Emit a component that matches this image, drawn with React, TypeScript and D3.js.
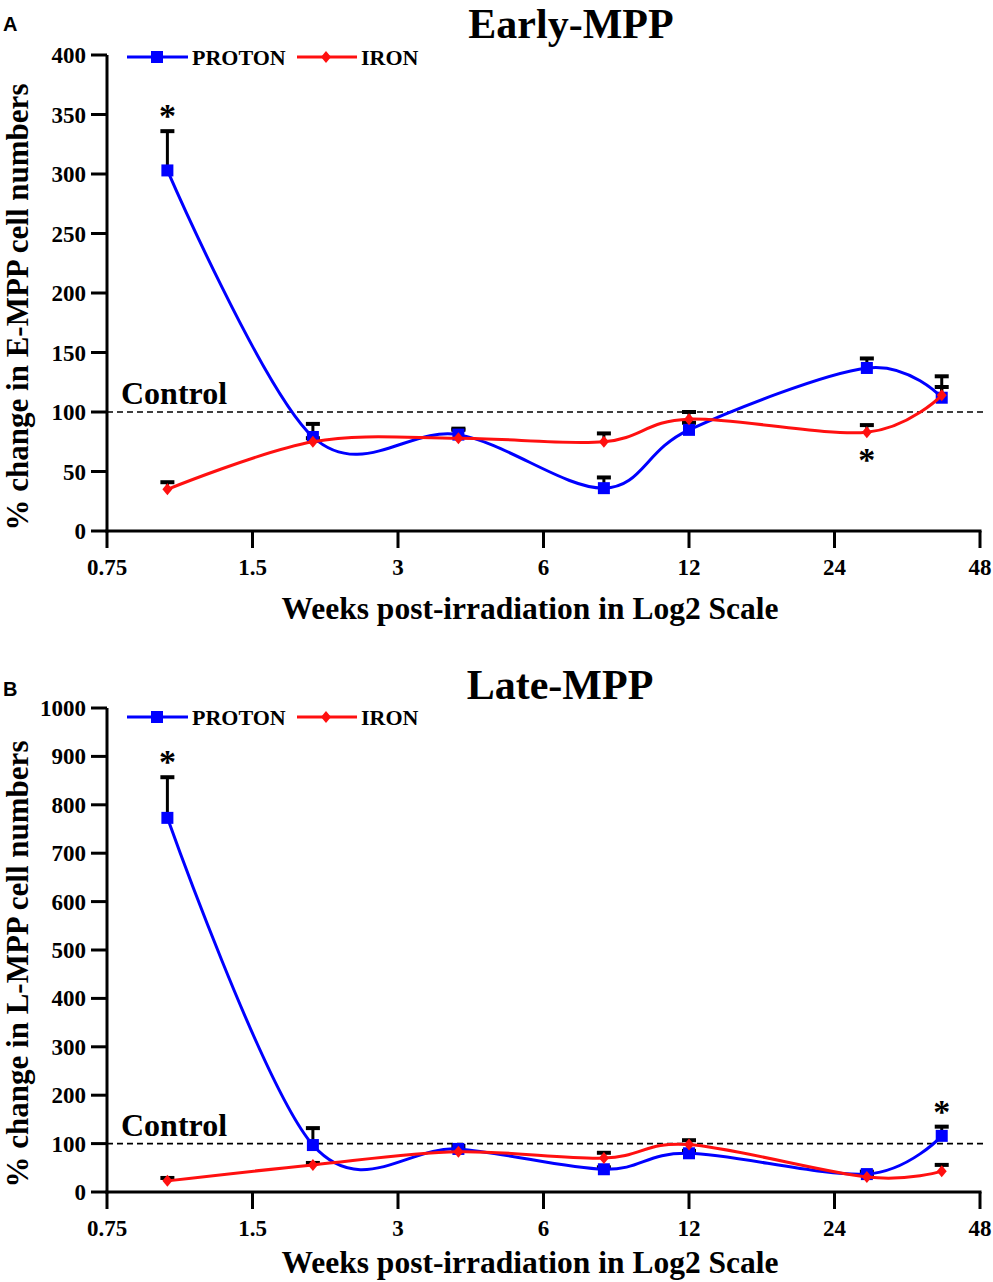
import * as d3 from "d3";

// weeks post-irradiation (log2 x axis)
const weeks = [1, 2, 4, 8, 12, 28, 40];
const xTicks = [0.75, 1.5, 3, 6, 12, 24, 48];

// Early-MPP (% of control)
const earlyProton = [303, 79, 81, 36, 85, 137, 112];
const earlyProtonSem = [33, 11, 5, 9, 6, 8, 9];
const earlyIron = [35, 75, 78, 75, 94, 83, 114];
const earlyIronSem = [6, 3, 7, 7, 6, 6, 16];

// Late-MPP (% of control)
const lateProton = [773, 97, 89, 47, 80, 37, 116];
const lateProtonSem = [84, 35, 6, 4, 5, 5, 19];
const lateIron = [23, 56, 83, 70, 98, 31, 43];
const lateIronSem = [6, 4, 4, 11, 9, 4, 13];

// significance stars: series, week index, above/below
const earlyStars = [
  { series: "proton", i: 0, pos: "above" },
  { series: "iron", i: 5, pos: "below" },
];
const lateStars = [
  { series: "proton", i: 0, pos: "above" },
  { series: "proton", i: 6, pos: "above" },
];

const SERIF = "'Liberation Serif', 'Times New Roman', serif";
const BLUE = "#0000ff";
const RED = "#ff1010";

interface PanelProps {
  letter: string;
  title: string;
  yLabel: string;
  yMax: number;
  yStep: number;
  top: number; // pixel y of max value
  bottom: number; // pixel y of zero
  proton: number[];
  protonSem: number[];
  iron: number[];
  ironSem: number[];
  stars: { series: string; i: number; pos: string }[];
  titleX: number;
  titleY: number;
  letterY: number;
  legendY: number;
  xTitleY: number;
}

function Panel(p: PanelProps) {
  const x = d3.scaleLog().base(2).domain([0.75, 48]).range([107, 980]);
  const y = d3.scaleLinear().domain([0, p.yMax]).range([p.bottom, p.top]);
  const yTicks = d3.range(0, p.yMax + 1, p.yStep);

  const line = d3
    .line<number>()
    .x((_, i) => x(weeks[i]))
    .y((d) => y(d))
    .curve(d3.curveCardinal.tension(0));

  const errBars = (vals: number[], sem: number[], key: string) =>
    vals.map((v, i) => {
      const cx = x(weeks[i]);
      const y1 = y(v + sem[i]);
      return (
        <g key={key + i}>
          <line x1={cx} x2={cx} y1={y(v)} y2={y1} stroke="#000" strokeWidth={3} />
          <line x1={cx - 7} x2={cx + 7} y1={y1} y2={y1} stroke="#000" strokeWidth={4} />
        </g>
      );
    });

  const square = (cx: number, cy: number, k: string) => (
    <rect key={k} x={cx - 6} y={cy - 6} width={12} height={12} fill={BLUE} />
  );
  const diamond = (cx: number, cy: number, k: string) => (
    <path key={k} d={`M${cx},${cy - 6}L${cx + 5},${cy}L${cx},${cy + 6}L${cx - 5},${cy}Z`} fill={RED} />
  );

  const x0 = x(0.75);
  const yMid = (p.top + p.bottom) / 2 + 14;

  return (
    <g>
      <text x={3} y={p.letterY} fontFamily="'Liberation Sans', Arial, sans-serif" fontWeight="bold" fontSize={20}>
        {p.letter}
      </text>
      <text x={p.titleX} y={p.titleY} textAnchor="middle" fontFamily={SERIF} fontWeight="bold" fontSize={42}>
        {p.title}
      </text>

      {/* y axis */}
      <line x1={x0} x2={x0} y1={p.bottom + 1.5} y2={p.top} stroke="#000" strokeWidth={3} />
      {yTicks.map((t) => (
        <g key={"yt" + t}>
          <line x1={91} x2={x0} y1={y(t)} y2={y(t)} stroke="#000" strokeWidth={3} />
          <text x={86} y={y(t) + 8} textAnchor="end" fontFamily={SERIF} fontWeight="bold" fontSize={23}>
            {t}
          </text>
        </g>
      ))}
      <text
        transform={`translate(28,${yMid}) rotate(-90)`}
        textAnchor="middle"
        fontFamily={SERIF}
        fontWeight="bold"
        fontSize={31}
      >
        {p.yLabel}
      </text>

      {/* x axis */}
      <line x1={x0 - 1.5} x2={x(48) + 1.5} y1={p.bottom} y2={p.bottom} stroke="#000" strokeWidth={3} />
      {xTicks.map((t) => (
        <g key={"xt" + t}>
          <line x1={x(t)} x2={x(t)} y1={p.bottom} y2={p.bottom + 17} stroke="#000" strokeWidth={3} />
          <text x={x(t)} y={p.bottom + 44} textAnchor="middle" fontFamily={SERIF} fontWeight="bold" fontSize={23}>
            {t}
          </text>
        </g>
      ))}
      <text x={530} y={p.xTitleY} textAnchor="middle" fontFamily={SERIF} fontWeight="bold" fontSize={31.5}>
        Weeks post-irradiation in Log2 Scale
      </text>

      {/* control */}
      <line x1={x0} x2={985} y1={y(100)} y2={y(100)} stroke="#000" strokeWidth={1.6} strokeDasharray="6,4" />
      <text x={121} y={y(100) - 8} fontFamily={SERIF} fontWeight="bold" fontSize={32}>
        Control
      </text>

      {/* legend */}
      <line x1={127} x2={188} y1={p.legendY} y2={p.legendY} stroke={BLUE} strokeWidth={3} />
      {square(157, p.legendY, "lgp")}
      <text x={192} y={p.legendY + 8} fontFamily={SERIF} fontWeight="bold" fontSize={22}>
        PROTON
      </text>
      <line x1={297} x2={357} y1={p.legendY} y2={p.legendY} stroke={RED} strokeWidth={3} />
      {diamond(326, p.legendY, "lgi")}
      <text x={361} y={p.legendY + 8} fontFamily={SERIF} fontWeight="bold" fontSize={22}>
        IRON
      </text>

      {errBars(p.proton, p.protonSem, "ep")}
      {errBars(p.iron, p.ironSem, "ei")}

      <path d={line(p.proton) || ""} fill="none" stroke={BLUE} strokeWidth={3} />
      {p.proton.map((v, i) => square(x(weeks[i]), y(v), "mp" + i))}
      <path d={line(p.iron) || ""} fill="none" stroke={RED} strokeWidth={3} />
      {p.iron.map((v, i) => diamond(x(weeks[i]), y(v), "mi" + i))}

      {p.stars.map((s, k) => {
        const vals = s.series === "proton" ? p.proton : p.iron;
        const sem = s.series === "proton" ? p.protonSem : p.ironSem;
        const cx = x(weeks[s.i]);
        const cy = s.pos === "above" ? y(vals[s.i] + sem[s.i]) - 20 : y(vals[s.i]) + 23;
        return (
          <text key={"s" + k} x={cx} y={cy + 16} textAnchor="middle" fontFamily={SERIF} fontWeight="bold" fontSize={34}>
            *
          </text>
        );
      })}
    </g>
  );
}

export default function App() {
  return (
    <div style={{ position: "absolute", left: 0, top: 0 }}>
      <svg width={993} height={1282} style={{ background: "#fff", display: "block" }}>
        <Panel
          letter="A"
          title="Early-MPP"
          yLabel="% change in E-MPP cell numbers"
          yMax={400}
          yStep={50}
          top={55}
          bottom={531}
          proton={earlyProton}
          protonSem={earlyProtonSem}
          iron={earlyIron}
          ironSem={earlyIronSem}
          stars={earlyStars}
          titleX={571}
          titleY={38}
          letterY={31}
          legendY={57}
          xTitleY={619}
        />
        <Panel
          letter="B"
          title="Late-MPP"
          yLabel="% change in L-MPP cell numbers"
          yMax={1000}
          yStep={100}
          top={708}
          bottom={1192}
          proton={lateProton}
          protonSem={lateProtonSem}
          iron={lateIron}
          ironSem={lateIronSem}
          stars={lateStars}
          titleX={560}
          titleY={699}
          letterY={696}
          legendY={717}
          xTitleY={1273}
        />
      </svg>
    </div>
  );
}
